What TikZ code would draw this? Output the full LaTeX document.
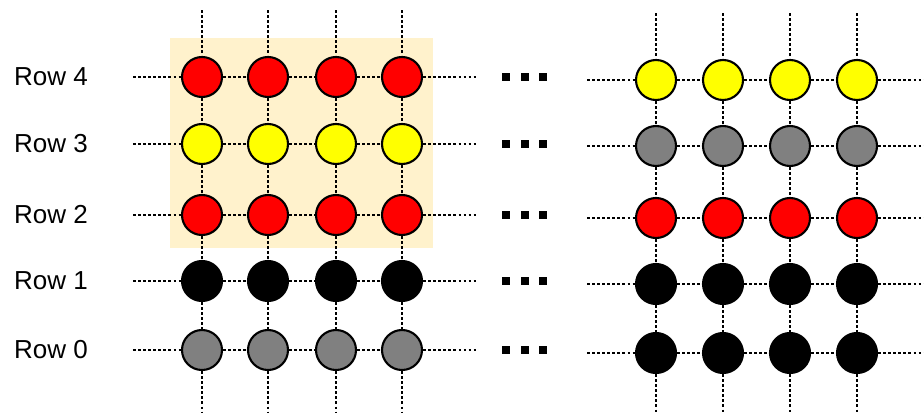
\documentclass[tikz,border=0pt]{standalone}
\usepackage{fontspec}
\setmainfont{Liberation Sans}
\usepackage{tikz}
\usetikzlibrary{positioning}

\definecolor{qred}{HTML}{FF0000}
\definecolor{qyellow}{HTML}{FFFF00}
\definecolor{qgray}{HTML}{808080}
\definecolor{patch}{HTML}{FFF2CC}

\tikzset{
  qubit/.style={circle, draw=black, line width=1.5pt, minimum size=1cm, inner sep=0pt},
  link/.style={line width=2pt, dash pattern=on 2pt off 1.6pt},
  gap/.style={fill=black, minimum size=0.22cm, inner sep=0pt},
  rowlabel/.style={font=\fontsize{18.5}{22}\selectfont}
}

\begin{document}
\begin{tikzpicture}[x=0.025cm, y=-0.025cm]
\useasboundingbox (0,0) rectangle (924,414);
\fill[patch] (170,38) rectangle (433,248);

% left lattice
\foreach \r/\y/\c in {4/77/qred, 3/144/qyellow, 2/215/qred, 1/281/black, 0/350/qgray} {
  \node[rowlabel] (lab\r) at (51,\y) {Row \r};
  \foreach \i/\x in {1/202, 2/268, 3/336, 4/402}
    \node[qubit, fill=\c] (L\r\i) at (\x,\y) {};
  \coordinate (Lin\r) at (133,\y);
  \coordinate (Lout\r) at (476,\y);
  \draw[link] (Lin\r) -- (L\r1) -- (L\r2) -- (L\r3) -- (L\r4) -- (Lout\r);
  \node[gap] (dA\r) at (506,\y) {};
  \node[gap] (dB\r) at (525,\y) {};
  \node[gap] (dC\r) at (543,\y) {};
}
\foreach \i/\x in {1/202, 2/268, 3/336, 4/402} {
  \coordinate (Ltop\i) at (\x,10);
  \coordinate (Lbot\i) at (\x,412);
  \draw[link] (Ltop\i) -- (L4\i) -- (L3\i) -- (L2\i) -- (L1\i) -- (L0\i) -- (Lbot\i);
}

% right lattice
\foreach \r/\y/\c in {4/80/qyellow, 3/146/qgray, 2/218/qred, 1/284/black, 0/353/black} {
  \foreach \i/\x in {1/656, 2/723, 3/790, 4/857}
    \node[qubit, fill=\c] (R\r\i) at (\x,\y) {};
  \coordinate (Rin\r) at (587,\y);
  \coordinate (Rout\r) at (924,\y);
  \draw[link] (Rin\r) -- (R\r1) -- (R\r2) -- (R\r3) -- (R\r4) -- (Rout\r);
}
\foreach \i/\x in {1/656, 2/723, 3/790, 4/857} {
  \coordinate (Rtop\i) at (\x,13);
  \coordinate (Rbot\i) at (\x,414);
  \draw[link] (Rtop\i) -- (R4\i) -- (R3\i) -- (R2\i) -- (R1\i) -- (R0\i) -- (Rbot\i);
}
\end{tikzpicture}
\end{document}
